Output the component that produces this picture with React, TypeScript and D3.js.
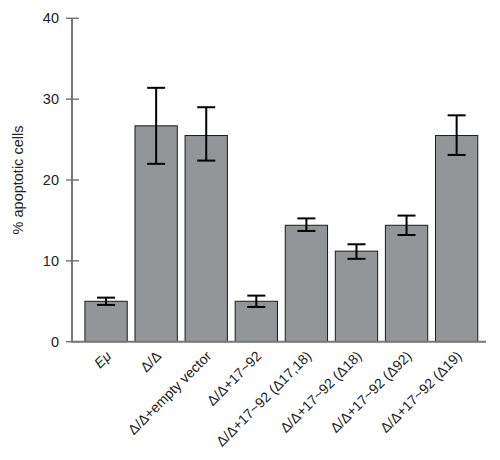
import React from "react";
import * as d3 from "d3";

const categories = [
  "Eμ",
  "Δ/Δ",
  "Δ/Δ+empty vector",
  "Δ/Δ+17~92",
  "Δ/Δ+17~92 (Δ17,18)",
  "Δ/Δ+17~92 (Δ18)",
  "Δ/Δ+17~92 (Δ92)",
  "Δ/Δ+17~92 (Δ19)",
];
const values = [5.0, 26.7, 25.5, 5.0, 14.4, 11.2, 14.4, 25.5];
const errLow = [4.55, 22.0, 22.4, 4.3, 13.7, 10.25, 13.2, 23.1];
const errHigh = [5.45, 31.4, 29.0, 5.7, 15.25, 12.05, 15.6, 28.0];
const yTicks = [0, 10, 20, 30, 40];
const italicLabels = ["Eμ"];

const W = 500;
const H = 460;
const axisX = 72;
const axisRight = 486;
const y0 = 341.7;
const y40 = 18.3;

export default function App() {
  const y = d3.scaleLinear().domain([0, 40]).range([y0, y40]);
  const x = d3
    .scaleBand<string>()
    .domain(categories)
    .range([79.9, 482.8])
    .paddingInner(0.155)
    .paddingOuter(0.1);
  const bw = x.bandwidth();
  const font = "'Liberation Sans', Arial, sans-serif";
  const axisColor = "#777";
  const textColor = "#222";
  return (
    <svg
      width={W}
      height={H}
      style={{ position: "absolute", left: 0, top: 0 }}
      fontFamily={font}
    >
      <rect x={0} y={0} width={W} height={H} fill="#fff" />
      {/* bars */}
      {categories.map((c, i) => (
        <rect
          key={c}
          x={x(c)}
          y={y(values[i])}
          width={bw}
          height={y(0) - y(values[i])}
          fill="#939598"
          stroke="#1a1a1a"
          strokeWidth={1}
        />
      ))}
      {/* error bars */}
      {categories.map((c, i) => {
        const cx = (x(c) as number) + bw / 2;
        const hw = 9;
        return (
          <g key={"e" + c} stroke="#000" strokeWidth={2}>
            <line x1={cx} x2={cx} y1={y(errHigh[i])} y2={y(errLow[i])} />
            <line x1={cx - hw} x2={cx + hw} y1={y(errHigh[i])} y2={y(errHigh[i])} />
            <line x1={cx - hw} x2={cx + hw} y1={y(errLow[i])} y2={y(errLow[i])} />
          </g>
        );
      })}
      {/* axes */}
      <line x1={axisX} x2={axisX} y1={y(40)} y2={y(0)} stroke={axisColor} strokeWidth={2} />
      <line x1={axisX - 1} x2={axisRight} y1={y(0)} y2={y(0)} stroke={axisColor} strokeWidth={2} />
      {yTicks.map((t) => (
        <g key={"t" + t}>
          <line x1={66} x2={79} y1={y(t)} y2={y(t)} stroke={axisColor} strokeWidth={1.5} />
          <text
            x={59}
            y={y(t)}
            dy="0.35em"
            textAnchor="end"
            fontSize={14.5}
            fill={textColor}
          >
            {t}
          </text>
        </g>
      ))}
      <text
        transform={`translate(23,${(y(0) + y(40)) / 2}) rotate(-90)`}
        textAnchor="middle"
        fontSize={14.5}
        fill={textColor}
      >
        % apoptotic cells
      </text>
      {categories.map((c) => {
        const cx = (x(c) as number) + bw / 2;
        return (
          <text
            key={"l" + c}
            transform={`translate(${cx + 6},${357}) rotate(-45)`}
            textAnchor="end"
            fontSize={14}
            fill={textColor}
            fontStyle={italicLabels.includes(c) ? "italic" : "normal"}
          >
            {c}
          </text>
        );
      })}
    </svg>
  );
}
